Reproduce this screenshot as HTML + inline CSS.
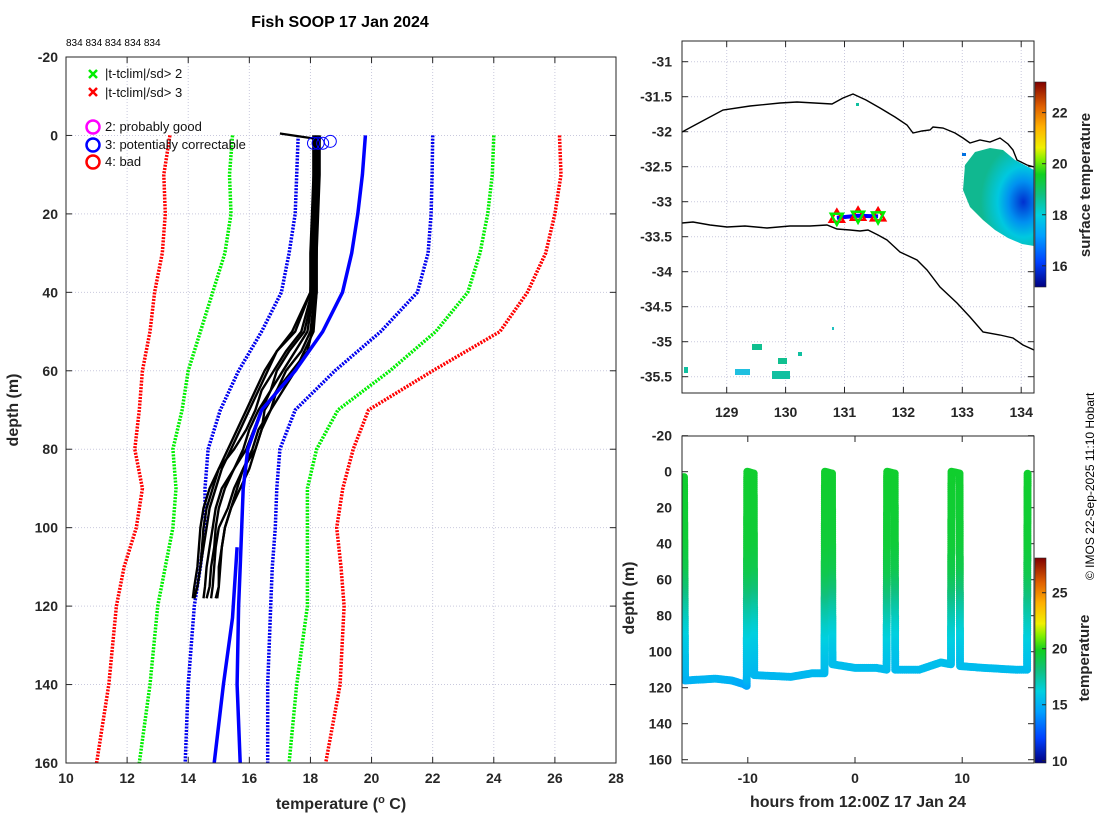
<!DOCTYPE html>
<html><head><meta charset="utf-8"><style>
html,body{margin:0;padding:0;background:#fff;}
svg{display:block;font-family:"Liberation Sans","DejaVu Sans",sans-serif;}
.tk{font-size:14px;font-weight:bold;fill:#262626;}
</style></head><body>
<svg id="fig" width="1100" height="820" viewBox="0 0 1100 820" xmlns="http://www.w3.org/2000/svg">
<defs>
<clipPath id="cm"><rect x="66" y="57" width="550" height="706"/></clipPath>
<clipPath id="cl"><rect x="682" y="41" width="352" height="352"/></clipPath>
<clipPath id="cb"><rect x="682" y="436" width="352" height="327"/></clipPath>
<linearGradient id="cmap" x1="0" y1="1" x2="0" y2="0">
<stop offset="0" stop-color="#000080"/><stop offset="0.12" stop-color="#0040ff"/><stop offset="0.25" stop-color="#00a0ff"/><stop offset="0.35" stop-color="#00d0e0"/><stop offset="0.45" stop-color="#10c080"/><stop offset="0.55" stop-color="#10d020"/><stop offset="0.62" stop-color="#80f000"/><stop offset="0.68" stop-color="#f0f000"/><stop offset="0.78" stop-color="#ffb000"/><stop offset="0.88" stop-color="#e06000"/><stop offset="1" stop-color="#800000"/>
</linearGradient>
<radialGradient id="sst" cx="0.85" cy="0.55" r="0.6">
<stop offset="0" stop-color="#0030d0"/><stop offset="0.35" stop-color="#0090f0"/><stop offset="0.6" stop-color="#00c8e0"/><stop offset="1" stop-color="#10b890"/>
</radialGradient>
</defs>
<text x="340" y="27" text-anchor="middle" font-size="16" font-weight="bold" fill="#000">Fish SOOP 17 Jan 2024</text>
<text x="66" y="46" font-size="10" fill="#000">834 834 834 834 834</text>
<g id="main"></g>
<g id="map"></g>
<g id="bot"></g>
<text transform="translate(1094,580) rotate(-90)" font-size="12" fill="#000">© IMOS 22-Sep-2025 11:10 Hobart</text>
</svg>
<script>
// ---------- data ----------
const climDepths = [0,10,20,30,40,50,60,70,80,90,100,110,120,140,160];
const redLeft   = [13.4,13.2,13.25,13.15,12.9,12.75,12.5,12.4,12.25,12.5,12.3,11.9,11.65,11.4,11.0];
const greenLeft = [15.45,15.35,15.4,15.2,14.8,14.4,14.0,13.8,13.5,13.6,13.5,13.25,13.0,12.75,12.4];
const blueLeft  = [17.6,17.55,17.5,17.3,17.05,16.4,15.65,15.05,14.65,14.55,14.55,14.4,14.2,14.0,13.9];
const blueMean  = [19.8,19.7,19.55,19.35,19.05,18.4,17.5,16.4,15.95,15.8,15.75,15.7,15.65,15.6,15.7];
const blueRight = [22.0,21.98,21.95,21.85,21.5,20.3,18.8,17.5,17.0,16.9,16.85,16.75,16.7,16.6,16.6];
const greenRight= [24.0,23.95,23.8,23.55,23.15,22.1,20.6,18.9,18.2,17.9,17.9,17.9,17.9,17.55,17.3];
const redRight  = [26.15,26.2,26.0,25.7,25.1,24.2,22.0,19.9,19.4,19.06,18.86,19.0,19.1,18.97,18.5];
const meanBDepths = [105,123,140,160];
const meanB       = [15.6,15.45,15.15,14.85];
const profDepths = [0,10,20,30,40,50,55,60,65,70,75,80,85,90,95,100,105,110,115,118];
const profiles = [
 [18.2,18.2,18.15,18.15,18.1,17.9,17.5,17.1,16.7,16.4,16.15,15.9,15.5,15.2,15.0,14.9,14.85,14.75,14.7,14.6],
 [18.3,18.3,18.25,18.2,18.2,18.1,17.8,17.5,17.1,16.7,16.4,16.2,16.0,15.7,15.4,15.2,15.1,15.0,15.0,14.9],
 [18.1,18.1,18.1,18.05,18.0,17.5,16.9,16.6,16.3,16.0,15.7,15.4,15.1,14.9,14.7,14.6,14.5,14.4,14.3,14.2],
 [18.25,18.2,18.2,18.2,18.15,18.0,17.7,17.2,16.9,16.7,16.3,16.1,15.8,15.5,15.3,15.0,14.9,14.85,14.8,14.75],
 [18.15,18.15,18.1,18.1,18.05,17.7,17.2,16.8,16.4,16.2,15.9,15.5,15.0,14.8,14.6,14.5,14.45,14.4,14.3,14.2],
 [18.3,18.25,18.2,18.2,18.2,18.05,17.9,17.4,16.9,16.5,16.4,16.2,15.8,15.6,15.4,15.2,15.1,15.05,15.0,14.95],
 [18.2,18.2,18.2,18.1,18.1,17.8,17.3,16.9,16.7,16.3,16.0,15.8,15.5,15.1,14.9,14.8,14.7,14.6,14.55,14.5],
 [18.1,18.1,18.05,18.0,18.0,17.4,16.9,16.5,16.2,15.9,15.6,15.3,15.0,14.7,14.5,14.4,14.35,14.3,14.2,14.15]
];
const flagT = [18.1,18.25,18.4,18.65];
const flagD = [2,2,2,1.5];
const stationLon = [130.87,131.23,131.57];
const stationLat = [-33.23,-33.20,-33.21];
const trackHours  = [-15.95,-15.85,-13.0,-11.5,-10.4,-10.1,-10.05,-9.45,-9.4,-6.0,-4.0,-2.85,-2.8,-2.15,-2.1,0.0,2.0,2.95,3.0,3.7,3.75,6.0,8.0,8.95,9.0,9.75,9.8,12.0,15.0,16.05,16.1];
const trackDepths = [3,116,115,116,118,119,0,1,113,114,112,112,0,1,107,109,109,110,0,1,110,110,106,107,0,1,108,109,110,110,0];
const colorDepths = [0,40,55,65,75,85,95,105,115,120];
const colorTemps  = [19.6,19.4,19.0,18.3,17.4,16.6,16.0,15.6,15.2,14.4];
const mapCbTicks = [16,18,20,22];
const botCbTicks = [10,15,20,25];
const tempTicks = [10,12,14,16,18,20,22,24,26,28];
const depthTicks = [-20,0,20,40,60,80,100,120,140,160];
const lonTicks = [129,130,131,132,133,134];
const latTicks = [-31,-31.5,-32,-32.5,-33,-33.5,-34,-34.5,-35,-35.5];
const hourTicks = [-10,0,10];
// ---------- scales ----------
const mx=t=>66+(t-10)*550/18, my=d=>57+(d+20)*706/180;
const lx=l=>726.7+(l-129)*58.9, ly=a=>61.7+(-31-a)*70;
const bx=h=>855+h*10.72, by=d=>471.7+d*1.8;
const NS="http://www.w3.org/2000/svg";
function mk(tag,attrs,parent,txt){const e=document.createElementNS(NS,tag);for(const k in attrs)e.setAttribute(k,attrs[k]);if(txt!==undefined)e.textContent=txt;parent.appendChild(e);return e;}
const stops=[[0,[0,0,128]],[0.12,[0,64,255]],[0.25,[0,160,255]],[0.35,[0,208,224]],[0.45,[16,192,128]],[0.55,[16,208,32]],[0.62,[128,240,0]],[0.68,[240,240,0]],[0.78,[255,176,0]],[0.88,[224,96,0]],[1,[128,0,0]]];
function cmap(f){f=Math.max(0,Math.min(1,f));for(let i=1;i<stops.length;i++){if(f<=stops[i][0]){const a=stops[i-1],b=stops[i],u=(f-a[0])/(b[0]-a[0]);const c=a[1].map((v,j)=>Math.round(v+(b[1][j]-v)*u));return `rgb(${c})`;}}return 'rgb(128,0,0)';}
function interp(xs,ys,x){if(x<=xs[0])return ys[0];for(let i=1;i<xs.length;i++){if(x<=xs[i]){const u=(x-xs[i-1])/(xs[i]-xs[i-1]);return ys[i-1]+u*(ys[i]-ys[i-1]);}}return ys[ys.length-1];}
function box(g,x0,y0,x1,y1,name){const r=mk('rect',{x:x0,y:y0,width:x1-x0,height:y1-y0,fill:'none',stroke:'#262626','stroke-width':1},g);}
// ---------- main profile plot ----------
const M=document.getElementById('main');
tempTicks.forEach(t=>{const x=mx(t);
 const l=mk('line',{x1:x,y1:57,x2:x,y2:763,stroke:'#c9c9dd','stroke-dasharray':'1,2'},M);
 mk('line',{x1:x,y1:763,x2:x,y2:757,stroke:'#262626'},M);mk('line',{x1:x,y1:57,x2:x,y2:63,stroke:'#262626'},M);
 const tx=mk('text',{x:x,y:783,'text-anchor':'middle',class:'tk'},M,t);});
depthTicks.forEach(d=>{const y=my(d);
 const l=mk('line',{x1:66,y1:y,x2:616,y2:y,stroke:'#c9c9dd','stroke-dasharray':'1,2'},M);
 mk('line',{x1:66,y1:y,x2:72,y2:y,stroke:'#262626'},M);mk('line',{x1:616,y1:y,x2:610,y2:y,stroke:'#262626'},M);
 const tx=mk('text',{x:58,y:y+5,'text-anchor':'end',class:'tk'},M,d);});
const MC=mk('g',{'clip-path':'url(#cm)'},M);
function line(g,ts,ds,color,dotted,w,name,sx,sy){const p=ts.map((t,i)=>`${sx(t).toFixed(1)},${sy(ds[i]).toFixed(1)}`).join(' ');const a={points:p,fill:'none',stroke:color,'stroke-width':w,'stroke-linejoin':'round'};if(dotted)a['stroke-dasharray']='2,1.3';const e=mk('polyline',a,g);return e;}
line(MC,redLeft,climDepths,'#ff0000',1,3.5,'clim-minus-3sd',mx,my);
line(MC,greenLeft,climDepths,'#00ee00',1,3.5,'clim-minus-2sd',mx,my);
line(MC,blueLeft,climDepths,'#0000ee',1,3.5,'clim-minus-1sd',mx,my);
line(MC,blueRight,climDepths,'#0000ee',1,3.5,'clim-plus-1sd',mx,my);
line(MC,greenRight,climDepths,'#00ee00',1,3.5,'clim-plus-2sd',mx,my);
line(MC,redRight,climDepths,'#ff0000',1,3.5,'clim-plus-3sd',mx,my);
profiles.forEach(p=>line(MC,p,profDepths,'#000',0,2.4,'temperature-profile',mx,my));
line(MC,blueMean,climDepths,'#0000ff',0,3.5,'clim-mean',mx,my);
line(MC,meanB,meanBDepths,'#0000ff',0,3.5,'clim-mean-deep',mx,my);
line(MC,[17.0,18.3],[-0.5,1],'#000',0,2.2,'surface-segment',mx,my);
flagT.forEach((t,i)=>{const c=mk('circle',{cx:mx(t),cy:my(flagD[i]),r:6,fill:'none',stroke:'#0000ff','stroke-width':1},MC);});
box(M,66,57,616,763,'profile-plot-axes');
// legend
const LG=mk('g',{},M);
function xm(x,y,c){mk('path',{d:`M${x-4},${y-4}L${x+4},${y+4}M${x-4},${y+4}L${x+4},${y-4}`,stroke:c,'stroke-width':2.5},LG);}
xm(93,74,'#00ee00');xm(93,92,'#ff0000');
[['#ff00ff',127],['#0000ff',145],['#ff0000',162]].forEach(a=>mk('circle',{cx:93,cy:a[1],r:6.5,fill:'none',stroke:a[0],'stroke-width':2.5},LG));
[['|t-tclim|/sd> 2',78],['|t-tclim|/sd> 3',97],['2: probably good',131],['3: potentially correctable',149],['4: bad',166]].forEach(a=>{const t=mk('text',{x:105,y:a[1],'font-size':13,fill:'#111'},LG,a[0]);});
const xl=mk('text',{x:341,y:809,'text-anchor':'middle','font-size':16,'font-weight':'bold',fill:'#262626'},M);
xl.innerHTML='temperature (<tspan dy="-6" font-size="11">o</tspan><tspan dy="6"> C)</tspan>';
const yl=mk('text',{transform:'translate(18,410) rotate(-90)','text-anchor':'middle','font-size':16,'font-weight':'bold',fill:'#262626'},M,'depth (m)');
// ---------- map ----------
const L=document.getElementById('map');
lonTicks.forEach(v=>{const x=lx(v);mk('line',{x1:x,y1:41,x2:x,y2:393,stroke:'#c9c9dd','stroke-dasharray':'1,2'},L);mk('line',{x1:x,y1:393,x2:x,y2:387,stroke:'#262626'},L);mk('line',{x1:x,y1:41,x2:x,y2:47,stroke:'#262626'},L);
 const t=mk('text',{x:x,y:417,'text-anchor':'middle',class:'tk'},L,v);});
latTicks.forEach(v=>{const y=ly(v);mk('line',{x1:682,y1:y,x2:1034,y2:y,stroke:'#c9c9dd','stroke-dasharray':'1,2'},L);mk('line',{x1:682,y1:y,x2:688,y2:y,stroke:'#262626'},L);mk('line',{x1:1034,y1:y,x2:1028,y2:y,stroke:'#262626'},L);
 const t=mk('text',{x:672,y:y+5,'text-anchor':'end',class:'tk'},L,v);});
const LC=mk('g',{'clip-path':'url(#cl)'},L);
const sst=mk('polygon',{points:'965,165 975,152 990,148 1003,150 1015,160 1034,170 1034,246 1022,244 1008,238 995,230 983,220 970,207 963,190',fill:'url(#sst)'},LC);
[[752,344,10,6,'#10c090'],[778,358,9,6,'#10c090'],[735,369,15,6,'#20c0e0'],[772,371,18,8,'#10c0a0'],[684,367,4,6,'#10c0a0'],[798,352,4,4,'#10c0a0'],[832,327,2,3,'#20c0c0'],[856,103,3,3,'#10c0a0'],[962,153,4,3,'#0070e0']].forEach(a=>{const r=mk('rect',{x:a[0],y:a[1],width:a[2],height:a[3],fill:a[4]},LC);});
const coast1=mk('polyline',{points:'682,132 695,125 723,110 750,106 780,103 797,102 832,104 843,98 853,94 866,100 880,108 895,117 907,125 913,133 922,131 930,130 933,127 943,128 955,133 963,138 970,143 980,140 990,142 1000,138 1008,144 1013,150 1017,160 1027,165 1034,167',fill:'none',stroke:'#000','stroke-width':1.4},LC);
const coast2=mk('polyline',{points:'682,223 693,222 710,225 727,227 745,226 767,228 790,226 810,226 827,225 837,229 850,230 860,231 868,230 878,235 887,240 900,252 917,260 927,270 940,287 957,303 970,317 983,332 1000,335 1013,338 1023,345 1034,350',fill:'none',stroke:'#000','stroke-width':1.4},LC);
const tr=mk('polyline',{points:stationLon.map((v,i)=>`${lx(v)},${ly(stationLat[i])}`).join(' '),fill:'none',stroke:'#0000ff','stroke-width':4},LC);
stationLon.forEach((v,i)=>{const x=lx(v),y=ly(stationLat[i]);
 const u=mk('polygon',{points:`${x},${y-8} ${x-7},${y+4} ${x+7},${y+4}`,fill:'none',stroke:'#ff0000','stroke-width':2.5},LC);
 const d=mk('polygon',{points:`${x},${y+7} ${x-6},${y-4} ${x+6},${y-4}`,fill:'none',stroke:'#00ee00','stroke-width':2.5},LC);});
box(L,682,41,1034,393,'map-axes');
const cb1=mk('rect',{x:1035,y:82,width:11,height:205,fill:'url(#cmap)',stroke:'#262626','stroke-width':0.6},L);
const c1y=v=>287-(v-15.17)*205/(23.2-15.17);
mapCbTicks.forEach(v=>{const y=c1y(v);mk('line',{x1:1046,y1:y,x2:1042,y2:y,stroke:'#262626'},L);const t=mk('text',{x:1052,y:y+5,class:'tk'},L,v);});
const ct1=mk('text',{transform:'translate(1090,185) rotate(-90)','text-anchor':'middle','font-size':15,'font-weight':'bold',fill:'#262626'},L,'surface temperature');
// ---------- depth-time ----------
const B=document.getElementById('bot');
hourTicks.forEach(v=>{const x=bx(v);mk('line',{x1:x,y1:763,x2:x,y2:757,stroke:'#262626'},B);mk('line',{x1:x,y1:436,x2:x,y2:442,stroke:'#262626'},B);
 const t=mk('text',{x:x,y:783,'text-anchor':'middle',class:'tk'},B,v);});
depthTicks.forEach(v=>{const y=by(v);mk('line',{x1:682,y1:y,x2:688,y2:y,stroke:'#262626'},B);mk('line',{x1:1034,y1:y,x2:1028,y2:y,stroke:'#262626'},B);
 const t=mk('text',{x:672,y:y+5,'text-anchor':'end',class:'tk'},B,v);});
const BC=mk('g',{'clip-path':'url(#cb)'},B);
const c2f=v=>(v-9.8)/(28.1-9.8);
for(let i=1;i<trackHours.length;i++){const h0=trackHours[i-1],h1=trackHours[i],d0=trackDepths[i-1],d1=trackDepths[i];
 const n=Math.max(2,Math.ceil(Math.hypot(bx(h1)-bx(h0),by(d1)-by(d0))/2));
 for(let k=0;k<n;k++){const u=k/n,h=h0+(h1-h0)*u,d=d0+(d1-d0)*u;const T=interp(colorDepths,colorTemps,d);
  const c=mk('circle',{cx:bx(h).toFixed(1),cy:by(d).toFixed(1),r:4,fill:cmap(c2f(T))},BC);}}
box(B,682,436,1034,763,'depth-time-axes');
const cb2=mk('rect',{x:1035,y:558,width:11,height:205,fill:'url(#cmap)',stroke:'#262626','stroke-width':0.6},B);
const c2y=v=>763-(v-9.8)*205/(28.1-9.8);
botCbTicks.forEach(v=>{const y=c2y(v);mk('line',{x1:1046,y1:y,x2:1042,y2:y,stroke:'#262626'},B);const t=mk('text',{x:1052,y:y+5,class:'tk'},B,v);});
const ct2=mk('text',{transform:'translate(1089,658) rotate(-90)','text-anchor':'middle','font-size':15,'font-weight':'bold',fill:'#262626'},B,'temperature');
const bxl=mk('text',{x:858,y:807,'text-anchor':'middle','font-size':16,'font-weight':'bold',fill:'#262626'},B,'hours from 12:00Z 17 Jan 24');
const byl=mk('text',{transform:'translate(634,598) rotate(-90)','text-anchor':'middle','font-size':16,'font-weight':'bold',fill:'#262626'},B,'depth (m)');
</script>
</body></html>
